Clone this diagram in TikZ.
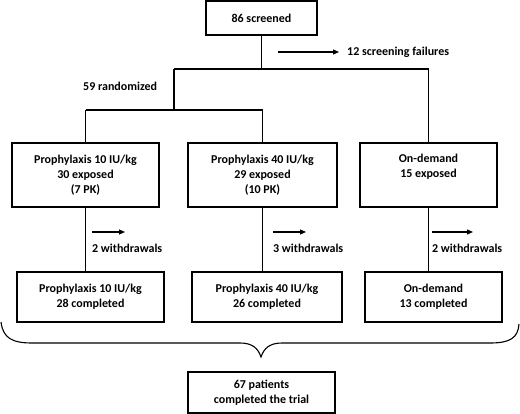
\documentclass[tikz,border=0pt]{standalone}
\usepackage{fontspec}
\setmainfont{Carlito}
\usetikzlibrary{arrows.meta}
\begin{document}
\begin{tikzpicture}[x=1pt,y=-1pt,
  box/.style={draw,line width=1.1pt,align=center,inner sep=0pt,font=\bfseries\fontsize{12}{15}\selectfont},
  lbl/.style={inner sep=0pt,font=\bfseries\fontsize{12}{15}\selectfont},
  ln/.style={line width=1.1pt},
  arr/.style={line width=1.1pt,-{Triangle[length=6pt,width=5pt]}}]
\useasboundingbox (0,0) rectangle (520,414);
\node[box,minimum width=111pt,minimum height=34pt] (top) at (261.5,18) {86 screened};
\node[box,minimum width=147pt,minimum height=64pt] (b1) at (85.5,175) {Prophylaxis 10 IU/kg\\30 exposed\\(7 PK)};
\node[box,minimum width=149pt,minimum height=64pt] (b2) at (262.5,175) {Prophylaxis 40 IU/kg\\29 exposed\\(10 PK)};
\node[box,minimum width=137pt,minimum height=64pt] (b3) at (428.5,175) {On-demand\\15 exposed\\[3pt]};
\node[box,minimum width=147pt,minimum height=50pt] (c1) at (90.5,297) {Prophylaxis 10 IU/kg\\28 completed};
\node[box,minimum width=150pt,minimum height=50pt] (c2) at (267,297) {Prophylaxis 40 IU/kg\\26 completed};
\node[box,minimum width=137pt,minimum height=50pt] (c3) at (433.5,297) {On-demand\\13 completed};
\node[box,minimum width=147pt,minimum height=41pt] (fin) at (261.5,392.5) {67 patients\\completed the trial};
% tree
\coordinate (j1) at (261.5,69);
\coordinate (jr) at (174,69);
\coordinate (jo) at (428.5,69);
\coordinate (jm) at (174,110);
\coordinate (ja) at (85.5,110);
\coordinate (jb) at (262.5,110);
\draw[ln] (top.south) -- (j1);
\draw[ln] (jr) -- (jo) -- (b3.north);
\draw[ln] (jr) -- (jm);
\draw[ln] (ja) -- (jb);
\draw[ln] (ja) -- (b1.north);
\draw[ln] (jb) -- (b2.north);
\draw[ln] (b1.south) -- (b1.south |- c1.north);
\draw[ln] (b2.south) -- (b2.south |- c2.north);
\draw[ln] (b3.south) -- (b3.south |- c3.north);
% side labels
\coordinate (a0s) at (278,52); \coordinate (a0e) at (339,52);
\draw[arr] (a0s) -- (a0e);
\node[lbl,anchor=west] (sf) at (347,52) {12 screening failures};
\node[lbl,anchor=west] (rnd) at (83,86) {59 randomized};
\coordinate (a1s) at (92,232); \coordinate (a1e) at (125,232);
\coordinate (a2s) at (273,232); \coordinate (a2e) at (306,232);
\coordinate (a3s) at (432,232); \coordinate (a3e) at (473,232);
\draw[arr] (a1s) -- (a1e);
\draw[arr] (a2s) -- (a2e);
\draw[arr] (a3s) -- (a3e);
\node[lbl,anchor=west] (w1) at (92,248) {2 withdrawals};
\node[lbl,anchor=west] (w2) at (273,248) {3 withdrawals};
\node[lbl,anchor=west] (w3) at (432,248) {2 withdrawals};
% brace
\draw[ln] (1,322) .. controls (3,338) and (12,343) .. (32,343) -- (240,343)
  .. controls (252,343) and (258,348) .. (261,357)
  .. controls (264,348) and (270,343) .. (282,343) -- (490,343)
  .. controls (510,343) and (518,338) .. (519,324);
\end{tikzpicture}
\end{document}
